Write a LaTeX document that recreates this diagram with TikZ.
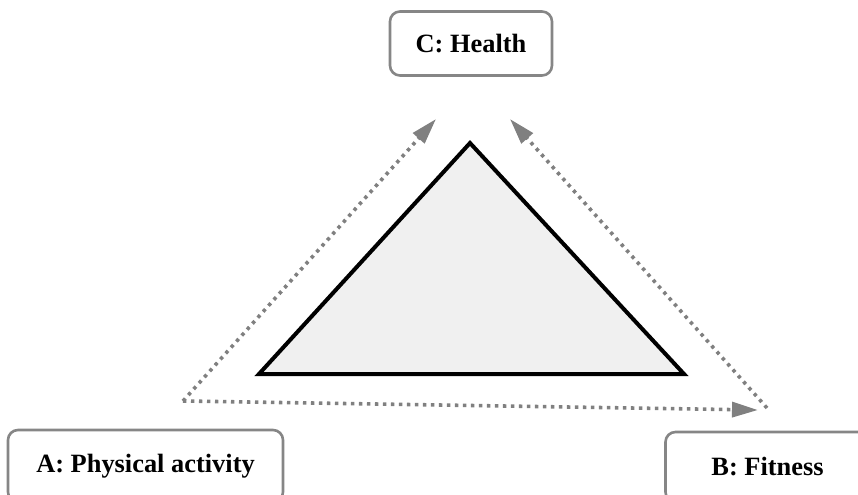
\documentclass[tikz,border=0pt]{standalone}
\usepackage{fontspec}
\setmainfont{Liberation Serif}
\usetikzlibrary{arrows.meta, positioning}

\begin{document}
\begin{tikzpicture}[
    x=0.5pt, y=-0.5pt,
    box/.style={rectangle, draw=gray!95, line width=1.3pt, rounded corners=5pt, fill=white, minimum height=32pt, align=center, font=\fontsize{13.2}{15}\selectfont\bfseries},
    link/.style={draw=gray, line width=1.8pt, dash pattern=on 1.7pt off 2.3pt, -{Triangle[length=13pt,width=7.5pt]}}
  ]
  \useasboundingbox (0,0) rectangle (858,494);

  % Cajas de los tres vertices
  \node[box, minimum width=81pt] (health) at (471,43.5) {C: Health};
  \node[box, minimum width=137.5pt, minimum height=36pt] (activity) at (145.5,466) {A: Physical activity};
  \node[box, minimum width=102pt, minimum height=35pt] (fitness) at (767.5,467) {B: Fitness};

  % Triangulo central
  \draw[line width=2pt, fill=gray!12] (259,374) -- (470,143) -- (684,374) -- cycle;

  % Esquinas del triangulo punteado
  \coordinate (a-corner) at (183,401);
  \coordinate (b-corner) at (767,408);
  \coordinate (c-left) at (436,119);
  \coordinate (c-right) at (510,119);
  \coordinate (b-tip) at (758,410);

  % Flechas punteadas
  \draw[link] (a-corner) -- (c-left);
  \draw[link] (a-corner) -- (b-tip);
  \draw[link] (b-corner) -- (c-right);
\end{tikzpicture}
\end{document}
